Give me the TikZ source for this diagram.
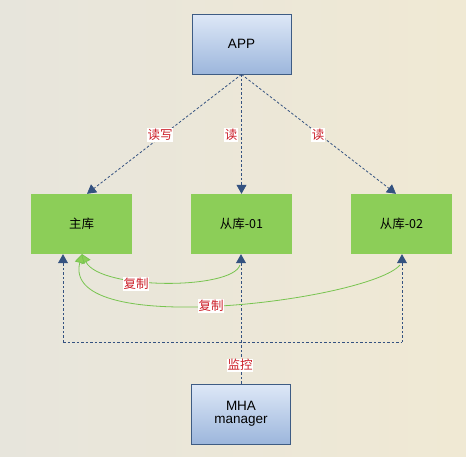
\documentclass[tikz,border=0pt]{standalone}
\usepackage{fontspec}
\setmainfont{Liberation Sans}
\newfontfamily\cjk{Noto Sans CJK SC}
\usetikzlibrary{arrows.meta,calc}
\definecolor{bgA}{RGB}{231,229,220}
\definecolor{bgB}{RGB}{240,233,212}
\definecolor{boxtop}{RGB}{222,232,247}
\definecolor{boxbot}{RGB}{156,182,220}
\definecolor{boxline}{RGB}{62,92,132}
\definecolor{grn}{RGB}{140,206,88}
\definecolor{grnline}{RGB}{120,196,80}
\definecolor{dash}{RGB}{52,82,128}
\definecolor{lbl}{RGB}{204,30,40}
\tikzset{
  bluebox/.style={draw=boxline, line width=0.8pt, top color=boxtop, bottom color=boxbot,
    minimum width=99pt, minimum height=60pt, inner sep=0pt, font=\fontsize{13.5}{15}\selectfont, align=center},
  greenbox/.style={fill=grn, minimum width=101pt, minimum height=60pt, inner sep=0pt,
    font=\cjk\fontsize{12.5}{14}\selectfont},
  dasharrow/.style={draw=dash, dash pattern=on 2.5pt off 2pt, line width=0.8pt,
    -{Triangle[width=10pt,length=9pt,fill=dash]}},
  dashline/.style={draw=dash, dash pattern=on 2.5pt off 2pt, line width=0.8pt},
  greenarrow/.style={draw=grnline, line width=0.8pt, -{Triangle[width=10pt,length=9pt,fill=grn]}},
  lab/.style={fill=white, text=lbl, inner sep=0.8pt, font=\cjk\fontsize{12.5}{14}\selectfont}
}
\begin{document}
\begin{tikzpicture}[x=1pt,y=-1pt]
\shade[left color=bgA, right color=bgB] (0,0) rectangle (466,456);
\useasboundingbox (0,0) rectangle (466,456);
\node[bluebox] (app) at (241.5,44) {APP};
\node[greenbox] (m) at (81.5,224) {主库};
\node[greenbox] (s1) at (241.5,224) {从库-01};
\node[greenbox] (s2) at (401.5,224) {从库-02};
\node[bluebox] (mha) at (241,414) {MHA\\[-2pt]manager};
% read/write arrows
\draw[dasharrow] (app.south) -- ($(m.north)+(5.5,0)$);
\draw[dasharrow] (app.south) -- (s1.north);
\draw[dasharrow] (app.south) -- ($(s2.north)+(-5.5,0)$);
\node[lab] (l1) at (160,135) {读写};
\node[lab] (l2) at (231,135) {读};
\node[lab] (l3) at (318,135) {读};
% monitoring
\coordinate (hc) at (241,342);
\coordinate (hl) at (63,342);
\coordinate (hr) at (402,342);
\draw[dashline] (mha.north) -- (hc);
\draw[dashline] (hl) -- (hr);
\draw[dasharrow] (hl) -- (hl |- m.south);
\draw[dasharrow] (hc) -- (hc |- s1.south);
\draw[dasharrow] (hr) -- (hr |- s2.south);
\node[lab] (l4) at (240,365) {监控};
% replication
\coordinate (r1) at (240,265);
\coordinate (r2) at (400,265);
\coordinate (mt) at (82,254);
\draw[greenarrow] (r1) .. controls (232,290) and (100,290) .. (mt);
\draw[greenarrow] (r2) .. controls (370,300) and (60,340) .. (mt);
\node[lab] (l5) at (136,284) {复制};
\node[lab] (l6) at (211,306) {复制};
\end{tikzpicture}
\end{document}
